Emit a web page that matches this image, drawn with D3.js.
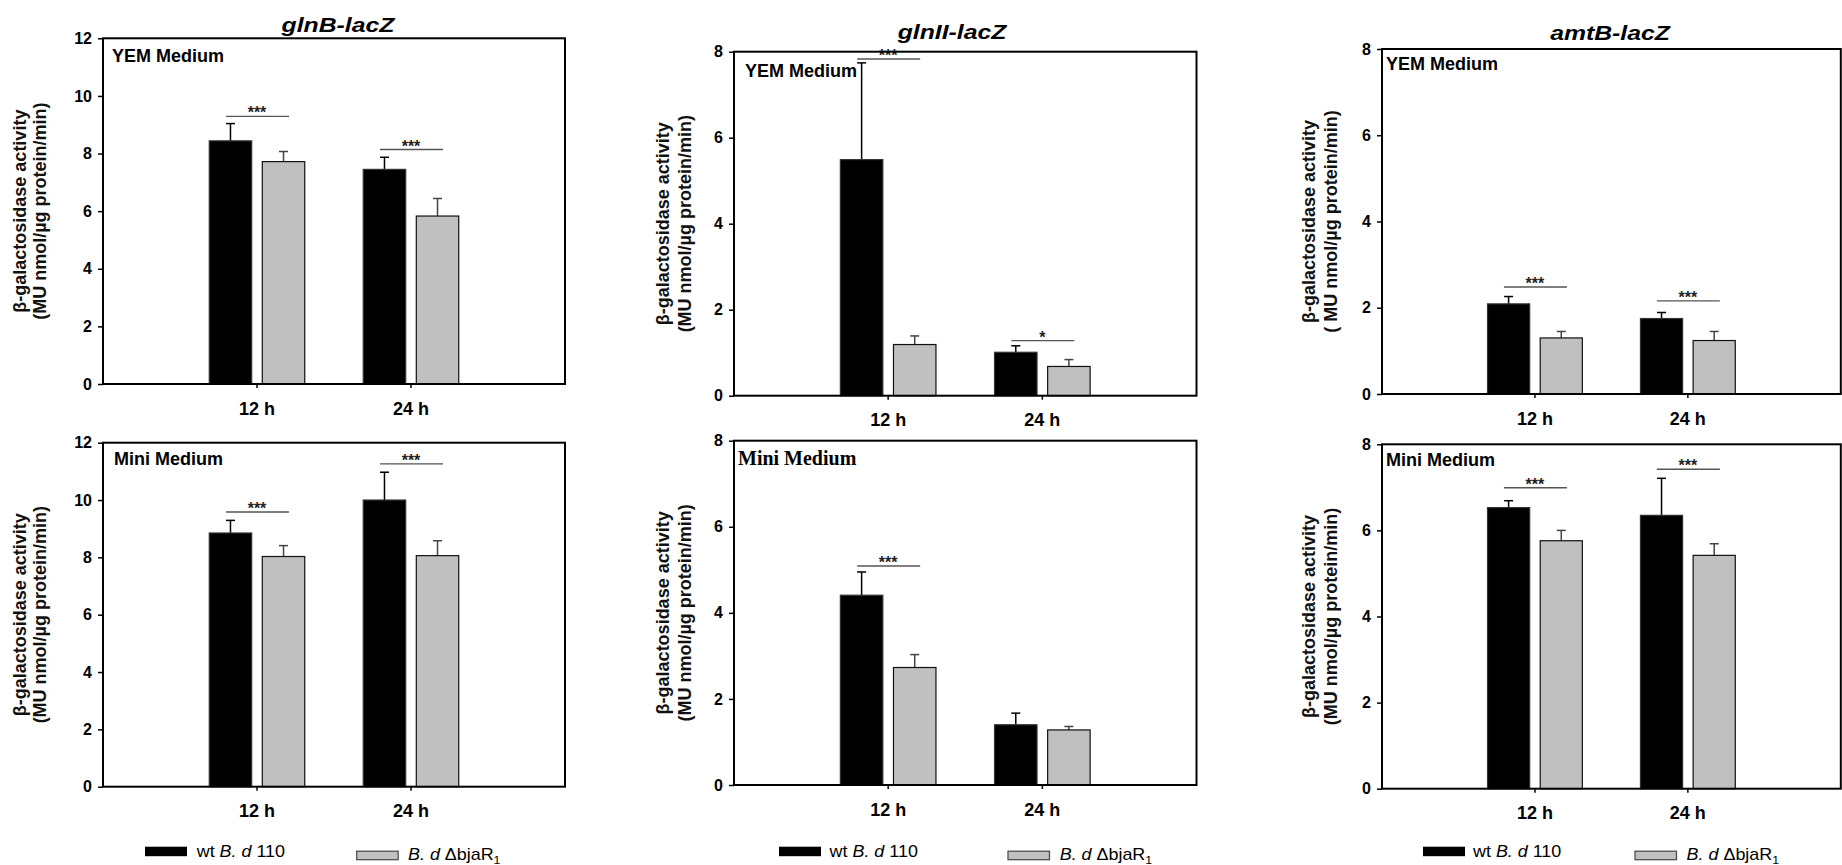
<!DOCTYPE html>
<html><head><meta charset="utf-8">
<script src="https://cdn.jsdelivr.net/npm/d3@7"></script>
<style>
body{margin:0;background:#fff}
svg{display:block}
</style>
</head><body>
<svg id="chart" width="1842" height="865" font-family="Arial, 'Liberation Sans', sans-serif"></svg>
<script>
// ---------------- DATA ----------------
const categories = ["12 h", "24 h"];
const genes = ["glnB-lacZ", "glnII-lacZ", "amtB-lacZ"];
const media = ["YEM Medium", "Mini Medium"];
const yMaxByGene = [12, 8, 8];
// panel order: glnB YEM, glnB Mini, glnII YEM, glnII Mini, amtB YEM, amtB Mini
const wtMean  = [[8.44, 7.45], [8.85, 10.00], [5.49, 1.01], [4.41, 1.40], [2.09, 1.75], [6.53, 6.35]];
const wtErr   = [[0.60, 0.42], [0.44, 0.97],  [2.25, 0.15], [0.54, 0.27], [0.17, 0.14], [0.16, 0.86]];
const mutMean = [[7.72, 5.83], [8.03, 8.06],  [1.19, 0.68], [2.73, 1.28], [1.30, 1.24], [5.76, 5.42]];
const mutErr  = [[0.35, 0.61], [0.38, 0.52],  [0.20, 0.16], [0.30, 0.08], [0.15, 0.21], [0.24, 0.27]];
const sigLevel = [[9.29, 8.14], [9.58, 11.26], [7.83, 1.28], [5.09, null], [2.48, 2.16], [6.99, 7.42]];
const sigLabel = [["***", "***"], ["***", "***"], ["***", "*"], ["***", null], ["***", "***"], ["***", "***"]];
const yTitle1 = ["β-galactosidase activity", "β-galactosidase activity", "β-galactosidase activity",
                 "β-galactosidase activity", "β-galactosidase activity", "β-galactosidase activity"];
const yTitle2 = ["(MU nmol/µg protein/min)", "(MU nmol/µg protein/min)", "(MU nmol/µg protein/min)",
                 "(MU nmol/µg protein/min)", "( MU nmol/µg protein/min)", "(MU nmol/µg protein/min)"];

// ---------------- LAYOUT ----------------
const svg = d3.select("#chart");
const SANS = "Arial, 'Liberation Sans', sans-serif";
const SERIF = "'Liberation Serif', 'Times New Roman', serif";
const colX = [[103, 565], [734, 1196.5], [1382, 1840.8]];
const rowY = [
  [[38.3, 384], [442.7, 786.7]],
  [[51.7, 395.7], [440.7, 785]],
  [[49, 394], [444.3, 788.7]]
];
const titlePos = [[338, 31.7], [952, 39.3], [1610, 40]];
const yTitleOff = [[-77, -57], [-65, -43.4], [-67, -45.2]];
const mediumPos = [[[9, 61.7], [11, 465]], [[11, 76.7], [4, 465]], [[4, 70], [4, 466]]];
const legendPos = [[145, 196.7, 356.7, 408], [779, 829.6, 1008, 1059.7], [1423, 1473, 1635, 1686.6]];

function stretchedText(g, x, y, sx, anchor) {
  return g.append("text")
    .attr("transform", `translate(${x},${y}) scale(${sx},1)`)
    .attr("text-anchor", anchor)
    .attr("font-family", SANS).attr("fill", "#000");
}

for (let c = 0; c < 3; c++) {
  // gene title
  stretchedText(svg, titlePos[c][0], titlePos[c][1], 1.18, "middle")
    .attr("font-size", 21).attr("font-weight", "bold").attr("font-style", "italic")
    .text(genes[c]);

  for (let r = 0; r < 2; r++) {
    const p = c * 2 + r;
    const [left, right] = colX[c];
    const [top, bottom] = rowY[c][r];
    const w = right - left;
    const yMax = yMaxByGene[c];
    const g = svg.append("g");

    const x0 = d3.scaleBand().domain(categories)
      .range([left + w / 6, left + 5 * w / 6]).paddingInner(0.38).paddingOuter(0.19);
    const x1 = d3.scaleBand().domain(["wt", "mut"]).range([0, x0.bandwidth()]).paddingInner(0.2);
    const y = d3.scaleLinear().domain([0, yMax]).range([bottom, top]);

    // bars
    categories.forEach((cat, i) => {
      const series = [
        {key: "wt", v: wtMean[p][i], e: wtErr[p][i], fill: "#000", stroke: "#333", ec: "#000"},
        {key: "mut", v: mutMean[p][i], e: mutErr[p][i], fill: "#c0c0c0", stroke: "#111", ec: "#444"}
      ];
      series.forEach(s => {
        const bx = x0(cat) + x1(s.key);
        const bw = x1.bandwidth();
        const cx = bx + bw / 2;
        g.append("line").attr("x1", cx).attr("x2", cx)
          .attr("y1", y(s.v)).attr("y2", y(s.v + s.e))
          .attr("stroke", s.ec).attr("stroke-width", 1.5);
        g.append("line").attr("x1", cx - 4.5).attr("x2", cx + 4.5)
          .attr("y1", y(s.v + s.e)).attr("y2", y(s.v + s.e))
          .attr("stroke", s.ec).attr("stroke-width", 1.5);
        g.append("rect").attr("x", bx).attr("y", y(s.v))
          .attr("width", bw).attr("height", y(0) - y(s.v))
          .attr("fill", s.fill).attr("stroke", s.stroke).attr("stroke-width", 1.2);
      });
      if (sigLevel[p][i] !== null) {
        const cc = x0(cat) + x0.bandwidth() / 2;
        const sy = y(sigLevel[p][i]);
        g.append("line").attr("x1", cc - 31).attr("x2", cc + 32)
          .attr("y1", sy).attr("y2", sy).attr("stroke", "#555").attr("stroke-width", 1.4);
        g.append("text").attr("x", cc).attr("y", sy + 2).attr("text-anchor", "middle")
          .attr("font-family", SANS).attr("font-size", 16).attr("font-weight", "bold")
          .attr("fill", "#222").text(sigLabel[p][i]);
      }
    });

    // axes
    const ya = g.append("g").attr("transform", `translate(${left},0)`)
      .call(d3.axisLeft(y).tickValues(d3.range(0, yMax + 1, 2)).tickSize(5).tickSizeOuter(0).tickPadding(6));
    ya.select(".domain").remove();
    ya.selectAll(".tick line").attr("stroke", "#000").attr("stroke-width", 1.5);
    ya.selectAll(".tick text").attr("font-size", 16).attr("font-weight", "bold")
      .attr("font-family", SANS).attr("fill", "#000");

    const xa = g.append("g").attr("transform", `translate(0,${bottom})`)
      .call(d3.axisBottom(x0).tickSize(4).tickSizeOuter(0).tickPadding(14));
    xa.select(".domain").remove();
    xa.selectAll(".tick line").attr("stroke", "#000").attr("stroke-width", 1.5);
    xa.selectAll(".tick text").attr("font-size", 18).attr("font-weight", "bold")
      .attr("font-family", SANS).attr("fill", "#000");

    // frame
    g.append("rect").attr("x", left).attr("y", top).attr("width", w).attr("height", bottom - top)
      .attr("fill", "none").attr("stroke", "#000").attr("stroke-width", 2);

    // y titles
    const cy = (top + bottom) / 2;
    [yTitle1[p], yTitle2[p]].forEach((t, k) => {
      g.append("text")
        .attr("transform", `translate(${left + yTitleOff[c][k]},${cy}) rotate(-90)`)
        .attr("text-anchor", "middle").attr("font-family", SANS).attr("font-size", 18)
        .attr("font-weight", "bold").attr("fill", "#111").text(t);
    });

    // medium label
    const serif = (c === 1 && r === 1);
    g.append("text").attr("x", left + mediumPos[c][r][0]).attr("y", mediumPos[c][r][1])
      .attr("font-family", serif ? SERIF : SANS).attr("font-size", serif ? 20 : 18)
      .attr("font-weight", "bold").attr("fill", "#000").text(media[r]);
  }

  // legend
  const L = legendPos[c];
  svg.append("rect").attr("x", L[0]).attr("y", 846.7).attr("width", 42).attr("height", 9.5)
    .attr("fill", "#000");
  const t1 = stretchedText(svg, L[1], 856.5, 1.12, "start").attr("font-size", 16);
  t1.append("tspan").text("wt ");
  t1.append("tspan").attr("font-style", "italic").text("B. d");
  t1.append("tspan").text(" 110");
  svg.append("rect").attr("x", L[2]).attr("y", 851.2).attr("width", 41.5).attr("height", 8.5)
    .attr("fill", "#c0c0c0").attr("stroke", "#444").attr("stroke-width", 1.2);
  const t2 = stretchedText(svg, L[3], 860, 1.12, "start").attr("font-size", 16);
  t2.append("tspan").attr("font-style", "italic").text("B. d");
  t2.append("tspan").text(" ΔbjaR");
  t2.append("tspan").attr("font-size", 11).attr("dy", 4).text("1");
}
</script>
</body></html>
